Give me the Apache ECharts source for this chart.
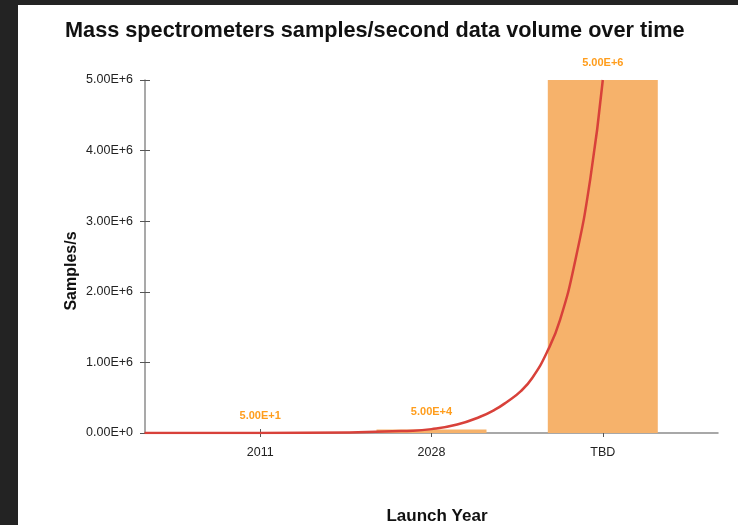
<!DOCTYPE html>
<html>
<head>
<meta charset="utf-8">
<script src="https://cdn.jsdelivr.net/npm/echarts@6/dist/echarts.min.js"></script>
<style>
  html, body { margin: 0; padding: 0; background: #ffffff; overflow: hidden; }
  #chart { width: 738px; height: 525px; }
</style>
</head>
<body>
<div id="chart"></div>
<script>
// Launch years and the samples/second of each mass spectrometer
const categories = ['2011', '2028', 'TBD'];
const samplesPerSecond = [50, 50000, 5000000];

// Growth trend curve, sampled along the category index (0 = 2011, 2 = TBD)
const trendX = [-0.675, 0, 0.52, 0.857, 1.0, 1.15, 1.284, 1.37, 1.44, 1.52, 1.588, 1.675, 1.75, 1.84, 1.927, 2.0];
const trendY = [0, 1000, 8000, 30000, 55000, 120000, 230000, 330000, 440000, 590000, 780000, 1150000, 1600000, 2450000, 3600000, 5000000];

// Y axis ticks
const yTicks = [0, 1000000, 2000000, 3000000, 4000000, 5000000];

const sci = v => Number(v).toExponential(2).toUpperCase();

const barData = categories.map((c, i) => [i, samplesPerSecond[i]]);
const trendData = trendX.map((x, i) => [x, trendY[i]]);

const chart = echarts.init(document.getElementById('chart'), null, { renderer: 'canvas', width: 738, height: 525 });

const axisGray = '#8c8c8c';
const font = 'Liberation Sans, Arial, sans-serif';
const xMin = -0.6725, xMax = 2.6725;

chart.setOption({
  animation: false,
  backgroundColor: '#ffffff',
  graphic: [
    { type: 'rect', left: 0, top: 0, shape: { width: 18, height: 525 }, style: { fill: '#232323' }, z: 100 },
    { type: 'rect', left: 0, top: 0, shape: { width: 738, height: 5 }, style: { fill: '#232323' }, z: 100 },
    {
      type: 'text', x: 437, y: 516, z: 50,
      style: { text: 'Launch Year', font: 'bold 17px ' + font, fill: '#111', align: 'center', verticalAlign: 'middle' }
    },
    {
      type: 'text', x: 72, y: 271, rotation: Math.PI / 2, z: 50,
      style: { text: 'Samples/s', font: 'bold 16px ' + font, fill: '#111', align: 'center', verticalAlign: 'middle' }
    }
  ],
  title: {
    text: 'Mass spectrometers samples/second data volume over time',
    left: 60,
    top: 15,
    textStyle: { fontFamily: font, fontSize: 21.7, fontWeight: 'bold', color: '#111' }
  },
  grid: { left: 145, right: 20, top: 80, bottom: 92, containLabel: false },
  xAxis: [
    {
      type: 'value',
      min: xMin,
      max: xMax,
      splitLine: { show: false },
      axisLine: { show: true, onZero: false, lineStyle: { color: axisGray, width: 1.5 } },
      axisTick: { show: true, customValues: [0, 1, 2], length: 4, lineStyle: { color: '#555' } },
      axisLabel: {
        customValues: [0, 1, 2],
        formatter: v => categories[Math.round(v)],
        color: '#222', fontSize: 12.5, fontFamily: font, margin: 13
      }
    },
    {
      type: 'value',
      min: xMin,
      max: xMax,
      position: 'bottom',
      splitLine: { show: false },
      axisLine: { show: false, onZero: false },
      axisTick: { show: true, inside: true, customValues: [0, 1, 2], length: 4, lineStyle: { color: '#555' } },
      axisLabel: { show: false }
    }
  ],
  yAxis: [
    {
      type: 'value',
      min: 0,
      max: 5000000,
      interval: 1000000,
      splitLine: { show: false },
      axisLine: { show: true, onZero: false, lineStyle: { color: axisGray, width: 1.5 } },
      axisTick: { show: true, length: 5, lineStyle: { color: '#555' } },
      axisLabel: {
        formatter: v => sci(v),
        color: '#222', fontSize: 12.5, fontFamily: font, margin: 12
      }
    },
    {
      type: 'value',
      min: 0,
      max: 5000000,
      interval: 1000000,
      position: 'left',
      splitLine: { show: false },
      axisLine: { show: false, onZero: false },
      axisTick: { show: true, inside: true, length: 5, lineStyle: { color: '#555' } },
      axisLabel: { show: false }
    }
  ],
  series: [
    {
      type: 'bar',
      xAxisIndex: 0,
      yAxisIndex: 0,
      data: barData,
      barWidth: 110,
      itemStyle: { color: '#f6b26b' },
      label: {
        show: true,
        position: 'top',
        distance: 12,
        formatter: p => sci(p.value[1]),
        color: '#ff9d1c',
        fontSize: 11,
        fontWeight: 'bold',
        fontFamily: font
      },
      z: 2
    },
    {
      type: 'line',
      xAxisIndex: 0,
      yAxisIndex: 0,
      data: trendData,
      smooth: 0.5,
      showSymbol: false,
      lineStyle: { color: '#d8413a', width: 2.5 },
      z: 3
    }
  ]
});
</script>
</body>
</html>
